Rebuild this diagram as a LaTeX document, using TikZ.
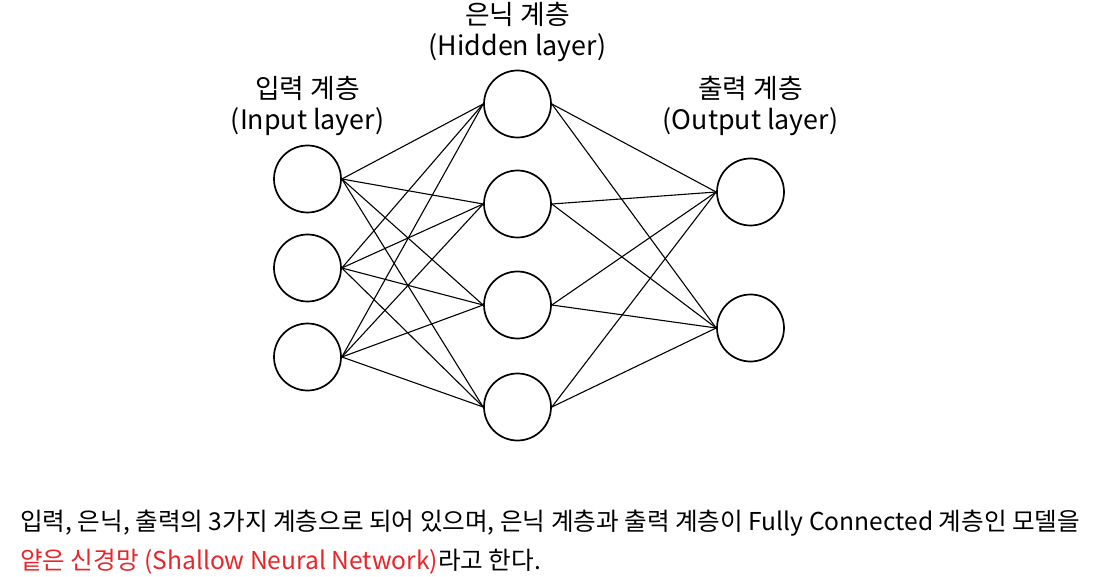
\documentclass[tikz,border=0pt]{standalone}
\usepackage{fontspec}
\setmainfont{Noto Sans CJK KR}
\definecolor{redtxt}{HTML}{E8262A}
\begin{document}
\begin{tikzpicture}[x=1pt,y=-1pt,
  neuron/.style={circle,draw=black,line width=1.7pt,minimum size=67pt,inner sep=0pt},
  conn/.style={draw=black,line width=1.1pt},
  lbl/.style={font=\fontsize{26.8}{31.5}\selectfont,align=center,inner sep=0pt},
  body/.style={font=\fontsize{24.6}{28}\selectfont,anchor=base west,inner sep=0pt}]
\useasboundingbox (0,0) rectangle (1116,577);
\node[neuron] (i1) at (307.5,179) {};
\node[neuron] (i2) at (307.5,268) {};
\node[neuron] (i3) at (307.5,357) {};
\node[neuron] (h1) at (517.5,104) {};
\node[neuron] (h2) at (517.5,204) {};
\node[neuron] (h3) at (517.5,305) {};
\node[neuron] (h4) at (517.5,407) {};
\node[neuron] (o1) at (750.5,192) {};
\node[neuron] (o2) at (750.5,328) {};
\foreach \a in {i1,i2,i3}{\foreach \b in {h1,h2,h3,h4}{\draw[conn] (\a.east) -- (\b.west);}}
\foreach \a in {h1,h2,h3,h4}{\foreach \b in {o1,o2}{\draw[conn] (\a.east) -- (\b.west);}}
\node[lbl] (li) at (307.5,106) {입력 계층\\(Input layer)};
\node[lbl] (lh) at (517.5,32) {은닉 계층\\(Hidden layer)};
\node[lbl] (lo) at (750.5,106) {출력 계층\\(Output layer)};
\node[body] (t1) at (20,530) {입력, 은닉, 출력의 3가지 계층으로 되어 있으며, 은닉 계층과 출력 계층이 Fully Connected 계층인 모델을};
\node[body] (t2) at (20,569) {\textcolor{redtxt}{얕은 신경망 (Shallow Neural Network)}라고 한다.};
\end{tikzpicture}
\end{document}
